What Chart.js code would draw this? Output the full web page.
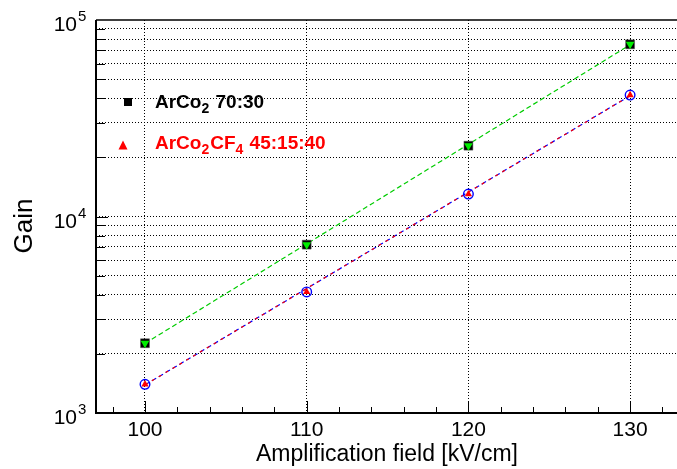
<!DOCTYPE html>
<html>
<head>
<meta charset="utf-8">
<title>Gain vs amplification field</title>
<script src="https://cdn.jsdelivr.net/npm/chart.js@4/dist/chart.umd.min.js"></script>
<style>
  html, body { margin: 0; padding: 0; background: #ffffff; }
  #wrap { width: 677px; height: 469px; }
</style>
</head>
<body>
<div id="wrap"><canvas id="c" width="677" height="469"></canvas></div>
<script>
// Amplification field settings [kV/cm]
const fieldValues = [100, 110, 120, 130];
// Measured gain, ArCO2 70:30
const gainArCo2 = [2265, 7190, 22930, 75190];
// Measured gain, ArCO2CF4 45:15:40
const gainArCo2CF4 = [1400, 4133, 13000, 41500];
// Exponential fits, evaluated at the first and last field value
const fitFields = [100, 130];
const fitArCo2 = [2260, 74800];
const fitArCo2CF4 = [1390, 41200];

// Axis ticks
const xMajorTicks = [100, 110, 120, 130];
const xMinorTicks = [98, 102, 104, 106, 108, 112, 114, 116, 118, 122, 124, 126, 128, 132];
const yGridTicks = [2000, 3000, 4000, 5000, 6000, 7000, 8000, 9000, 10000,
                    20000, 30000, 40000, 50000, 60000, 70000, 80000, 90000];
const yDecades = [3, 4, 5];

const FONT = '"Liberation Sans", Arial, Helvetica, sans-serif';

function pts(xs, ys) { return xs.map((x, i) => ({ x: x, y: ys[i] })); }

// Draws a run of text pieces, some of them as subscripts
function drawRich(ctx, x, y, pieces, size, color) {
  ctx.fillStyle = color;
  ctx.textAlign = 'left';
  ctx.textBaseline = 'alphabetic';
  for (const p of pieces) {
    const sub = !!p.sub;
    ctx.font = 'bold ' + (sub ? Math.round(size * 0.76) : size) + 'px ' + FONT;
    ctx.fillText(p.t, x, sub ? y + 5 : y);
    x += ctx.measureText(p.t).width + (sub ? 1 : 0);
  }
}

const axesPlugin = {
  id: 'rootAxes',
  afterDatasetsDraw(chart) {
    const ctx = chart.ctx;
    const a = chart.chartArea;
    const xs = chart.scales.x, ys = chart.scales.y;
    ctx.save();
    ctx.strokeStyle = '#000';
    // x tick marks, pointing into the frame
    ctx.lineWidth = 1;
    ctx.beginPath();
    for (const v of xMajorTicks) {
      const px = Math.round(xs.getPixelForValue(v)) + 0.5;
      ctx.moveTo(px, a.bottom); ctx.lineTo(px, a.bottom - 12);
    }
    for (const v of xMinorTicks) {
      const px = Math.round(xs.getPixelForValue(v)) + 0.5;
      ctx.moveTo(px, a.bottom); ctx.lineTo(px, a.bottom - 6);
    }
    // y tick marks
    for (const v of yGridTicks) {
      const py = Math.round(ys.getPixelForValue(v)) + 0.5;
      ctx.moveTo(a.left, py); ctx.lineTo(a.left + (v === 10000 ? 12 : 9), py);
    }
    ctx.stroke();
    // frame: left, bottom and top edges
    ctx.lineWidth = 2;
    ctx.beginPath();
    ctx.moveTo(a.left, a.top); ctx.lineTo(a.left, a.bottom);
    ctx.lineTo(a.right, a.bottom);
    ctx.stroke();
    ctx.lineWidth = 1.5;
    ctx.beginPath();
    ctx.moveTo(a.left, a.top); ctx.lineTo(a.right, a.top);
    ctx.stroke();
    ctx.restore();
  },
  afterDraw(chart) {
    const ctx = chart.ctx;
    const a = chart.chartArea;
    const xs = chart.scales.x, ys = chart.scales.y;
    ctx.save();
    ctx.fillStyle = '#000';
    // x tick labels
    ctx.font = '21px ' + FONT;
    ctx.textAlign = 'center';
    ctx.textBaseline = 'alphabetic';
    for (const v of xMajorTicks) {
      ctx.fillText(String(v), xs.getPixelForValue(v), a.bottom + 23);
    }
    // y tick labels as powers of ten
    for (const d of yDecades) {
      const py = ys.getPixelForValue(Math.pow(10, d));
      ctx.font = '21px ' + FONT;
      ctx.textAlign = 'right';
      ctx.fillText('10', a.left - 19, py + 11);
      ctx.font = '15px ' + FONT;
      ctx.textAlign = 'left';
      ctx.fillText(String(d), a.left - 18, py + 1);
    }
    // axis titles
    ctx.font = '23px ' + FONT;
    ctx.textAlign = 'center';
    ctx.fillText('Amplification field [kV/cm]', 387, 461);
    ctx.save();
    ctx.translate(32, 226);
    ctx.rotate(-Math.PI / 2);
    ctx.font = '26px ' + FONT;
    ctx.fillText('Gain', 0, 0);
    ctx.restore();

    // legend
    ctx.fillStyle = '#000';
    ctx.fillRect(124, 98, 8, 8);
    drawRich(ctx, 155, 107.5, [{ t: 'ArCo' }, { t: '2', sub: true }, { t: ' 70:30' }], 19, '#000');
    ctx.fillStyle = '#ff0000';
    ctx.beginPath();
    ctx.moveTo(123, 140.5); ctx.lineTo(127.5, 149.5); ctx.lineTo(118.5, 149.5);
    ctx.closePath(); ctx.fill();
    drawRich(ctx, 155, 148.5, [{ t: 'ArCo' }, { t: '2', sub: true }, { t: 'CF' }, { t: '4', sub: true }, { t: ' 45:15:40' }], 19, '#ff0000');
    ctx.restore();
  }
};

const chart = new Chart(document.getElementById('c'), {
  type: 'scatter',
  data: {
    datasets: [
      { label: 'ArCo2CF4 45:15:40', data: pts(fieldValues, gainArCo2CF4),
        pointStyle: 'triangle', pointRadius: 4.2, backgroundColor: '#ff0000', borderColor: '#ff0000', borderWidth: 0 },
      { label: 'ArCo2CF4 45:15:40 (circle)', data: pts(fieldValues, gainArCo2CF4),
        pointStyle: 'circle', pointRadius: 4.8, backgroundColor: 'rgba(0,0,0,0)', borderColor: '#0000ff', borderWidth: 1.4 },
      { label: 'ArCo2 70:30 (triangle)', data: pts(fieldValues, gainArCo2),
        pointStyle: 'triangle', rotation: 180, pointRadius: 5, backgroundColor: '#00ee00', borderColor: '#00ee00', borderWidth: 0 },
      { label: 'ArCo2 70:30', data: pts(fieldValues, gainArCo2),
        pointStyle: 'rect', pointRadius: 6.3, backgroundColor: '#000', borderColor: '#555', borderWidth: 0.5 },
      { label: 'fit ArCo2CF4 red', data: pts(fitFields, fitArCo2CF4), showLine: true, pointRadius: 0,
        borderColor: '#ff0000', borderWidth: 1.2, borderDash: [3, 5], borderDashOffset: 0, fill: false },
      { label: 'fit ArCo2CF4 blue', data: pts(fitFields, fitArCo2CF4), showLine: true, pointRadius: 0,
        borderColor: '#0000ff', borderWidth: 1.2, borderDash: [5, 3], fill: false },
      { label: 'fit ArCo2', data: pts(fitFields, fitArCo2), showLine: true, pointRadius: 0,
        borderColor: '#00cc00', borderWidth: 1.2, borderDash: [5, 3], fill: false }
    ]
  },
  options: {
    responsive: false,
    animation: false,
    devicePixelRatio: 1,
    layout: { autoPadding: false, padding: { left: 96, top: 20, right: 0, bottom: 56 } },
    plugins: { legend: { display: false }, tooltip: { enabled: false } },
    scales: {
      x: {
        type: 'linear', min: 96.97, max: 132.9,
        afterBuildTicks: s => { s.ticks = xMajorTicks.map(v => ({ value: v })); },
        ticks: { display: false },
        grid: { color: '#000', lineWidth: 1, drawTicks: false },
        border: { display: false, dash: [1, 2] }
      },
      y: {
        type: 'logarithmic', min: 1000, max: 100000,
        afterBuildTicks: s => { s.ticks = yGridTicks.map(v => ({ value: v })); },
        ticks: { display: false },
        grid: { color: '#000', lineWidth: 1, drawTicks: false },
        border: { display: false, dash: [1, 2] }
      }
    }
  },
  plugins: [axesPlugin]
});
</script>
</body>
</html>
